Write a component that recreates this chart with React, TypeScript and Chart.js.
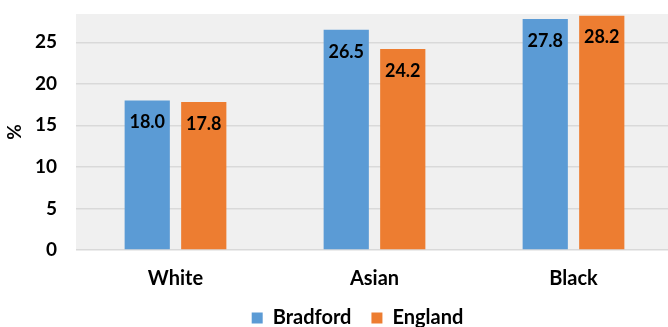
import React, { useEffect, useRef } from "react";
import { Chart, registerables } from "chart.js";

Chart.register(...registerables);

const categories = ["White", "Asian", "Black"];
const bradford = [18.0, 26.5, 27.8];
const england = [17.8, 24.2, 28.2];
const seriesNames = ["Bradford", "England"];
const yTicks = [0, 5, 10, 15, 20, 25];

const FONT = "Lato, 'Open Sans', sans-serif";
const CANVAS_H = 338;

const bgPlugin = {
  id: "plotBg",
  afterLayout(chart: any) {
    const lg = chart.legend;
    if (lg) {
      lg.left += 21;
      lg.right += 21;
    }
  },
  beforeDraw(chart: any) {
    const { ctx, chartArea } = chart;
    ctx.save();
    ctx.fillStyle = "#f0f0f0";
    ctx.fillRect(chartArea.left, chartArea.top, chartArea.right - chartArea.left, chartArea.bottom - chartArea.top);
    ctx.restore();
  },
};

const labelPlugin = {
  id: "barLabels",
  afterDatasetsDraw(chart: any) {
    const { ctx } = chart;
    ctx.save();
    ctx.font = `bold 18px ${FONT}`;
    ctx.fillStyle = "#000";
    ctx.textAlign = "center";
    ctx.textBaseline = "middle";
    chart.data.datasets.forEach((ds: any, i: number) => {
      const meta = chart.getDatasetMeta(i);
      meta.data.forEach((el: any, j: number) => {
        ctx.fillText(Number(ds.data[j]).toFixed(1), el.x, el.y + 22);
      });
    });
    ctx.restore();
  },
};

export default function App() {
  const ref = useRef<HTMLCanvasElement>(null);
  useEffect(() => {
    const chart = new Chart(ref.current!, {
      type: "bar",
      data: {
        labels: categories,
        datasets: [
          { label: seriesNames[0], data: bradford, backgroundColor: "#5b9bd5" },
          { label: seriesNames[1], data: england, backgroundColor: "#ed7d31" },
        ],
      },
      options: {
        animation: false,
        responsive: false,
        layout: { padding: { top: 14, right: 41, left: 0, bottom: 0 } },
        datasets: { bar: { categoryPercentage: 0.568, barPercentage: 0.8 } },
        plugins: {
          tooltip: { enabled: false },
          legend: {
            position: "bottom",
            labels: {
              font: { family: FONT, size: 20, weight: "bold" },
              color: "#000",
              boxWidth: 11,
              boxHeight: 11,
              padding: 20,
            },
          },
        },
        scales: {
          x: {
            grid: { display: false, drawTicks: false },
            border: { display: false },
            ticks: { font: { family: FONT, size: 20, weight: "bold" }, color: "#000", padding: 17 },
            afterFit: (s: any) => {
              const lh = s.chart.legend ? s.chart.legend.height : 0;
              s.height = s.chart.height - 250 - lh;
            },
          },
          y: {
            min: 0,
            max: 28.4,
            afterBuildTicks: (s: any) => {
              s.ticks = yTicks.map((v) => ({ value: v }));
            },
            afterFit: (s: any) => {
              s.width = 76;
              s.paddingTop = 0;
              s.paddingBottom = 0;
            },
            grid: { color: "#d9d9d9", lineWidth: 1.5, drawTicks: false },
            border: { display: false },
            ticks: { font: { family: FONT, size: 19, weight: "bold" }, color: "#000", padding: 19 },
            title: {
              display: true,
              text: "%",
              font: { family: FONT, size: 19, weight: "bold" },
              color: "#000",
              padding: { top: 3, bottom: 0 },
            },
          },
        },
      },
      plugins: [bgPlugin, labelPlugin],
    } as any);
    return () => chart.destroy();
  }, []);
  return (
    <div style={{ position: "absolute", left: 0, top: 0, width: 668, height: 327, overflow: "hidden", background: "#fff" }}>
      <canvas ref={ref} width={714} height={CANVAS_H} style={{ display: "block", width: 714, height: CANVAS_H }} />
    </div>
  );
}
